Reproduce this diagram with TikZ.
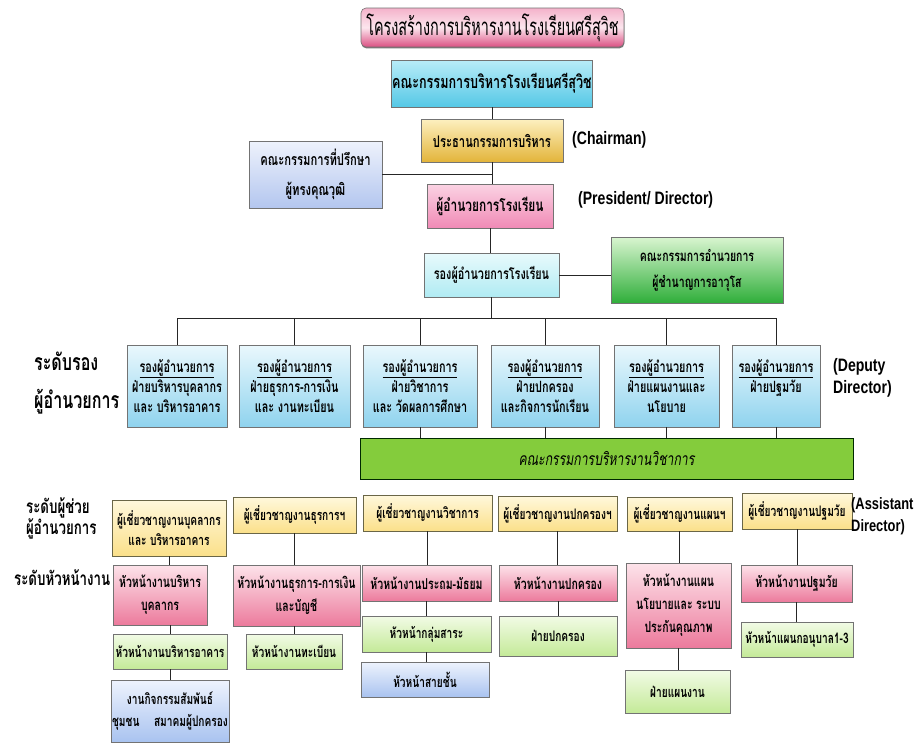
\documentclass[tikz,border=0pt]{standalone}
\usepackage{fontspec}
\usetikzlibrary{shadows}
\newfontfamily\thai[Script=Thai,FakeStretch=0.7]{Loma}
\newfontfamily\thaicond[Script=Thai,FakeStretch=0.6]{Loma}
\newfontfamily\eng[FakeStretch=0.78]{Liberation Sans}
\definecolor{titT}{HTML}{F4B2CA}\definecolor{titM}{HTML}{FCE6EE}\definecolor{titB}{HTML}{DB4F82}
\definecolor{brdT}{HTML}{B8ECF8}\definecolor{brdB}{HTML}{55C8E6}
\definecolor{chT}{HTML}{FDF0C0}\definecolor{chB}{HTML}{E3B43A}
\definecolor{advT}{HTML}{EEF2FC}\definecolor{advB}{HTML}{B3C6EF}
\definecolor{dirT}{HTML}{FBD3E3}\definecolor{dirB}{HTML}{F08AB6}
\definecolor{vcT}{HTML}{E8FAFC}\definecolor{vcB}{HTML}{B0EBF3}
\definecolor{exT}{HTML}{D9F5D0}\definecolor{exB}{HTML}{2FAE3A}
\definecolor{dpT}{HTML}{EAF8FD}\definecolor{dpB}{HTML}{8FD3EE}
\definecolor{barC}{HTML}{84CC3C}
\definecolor{asT}{HTML}{FFF8DC}\definecolor{asB}{HTML}{FBE08A}
\definecolor{hpT}{HTML}{FDE3EA}\definecolor{hpB}{HTML}{EC7A9C}
\definecolor{hgT}{HTML}{F2FBE6}\definecolor{hgB}{HTML}{C4EA98}
\definecolor{hbT}{HTML}{EEF3FD}\definecolor{hbB}{HTML}{A9C3F0}
\tikzset{
 box/.style={draw=black!55, line width=0.6pt, align=center, inner sep=1pt,
   font={\thai\bfseries\fontsize{15.5}{20}\selectfont},
   drop shadow={shadow xshift=0.4pt, shadow yshift=-1.4pt, fill=black!75, opacity=0.7}},
 titlebox/.style={box, rounded corners=5pt, top color=titT, bottom color=titB, middle color=titM,
   font={\thaicond\fontsize{24}{26}\selectfont}},
 boardbox/.style={box, top color=brdT, bottom color=brdB, font={\thai\bfseries\fontsize{18}{20}\selectfont}},
 chairbox/.style={box, top color=chT, bottom color=chB, font={\thai\bfseries\fontsize{16}{20}\selectfont}},
 advbox/.style={box, top color=advT, bottom color=advB, font={\thai\bfseries\fontsize{16}{30}\selectfont}},
 dirbox/.style={box, top color=dirT, bottom color=dirB, font={\thai\bfseries\fontsize{17}{20}\selectfont}},
 vicebox/.style={box, top color=vcT, bottom color=vcB, font={\thai\bfseries\fontsize{15.5}{20}\selectfont}},
 expbox/.style={box, top color=exT, bottom color=exB, font={\thai\bfseries\fontsize{15}{26}\selectfont}},
 depbox/.style={box, top color=dpT, bottom color=dpB, minimum height=82pt},
 barbox/.style={box, fill=barC, draw=black!60!green!40!black, font={\thai\itshape\fontsize{17.5}{20}\selectfont}},
 asbox/.style={box, top color=asT, bottom color=asB, draw=black!45!yellow!60!black, font={\thai\bfseries\fontsize{14.5}{20}\selectfont}},
 pkbox/.style={box, top color=hpT, bottom color=hpB, font={\thai\bfseries\fontsize{15}{23}\selectfont}},
 gnbox/.style={box, top color=hgT, bottom color=hgB, font={\thai\bfseries\fontsize{14.5}{20}\selectfont}},
 blbox/.style={box, top color=hbT, bottom color=hbB, font={\thai\bfseries\fontsize{14.5}{22}\selectfont}},
 englbl/.style={align=left, inner sep=0pt, anchor=west, font={\eng\bfseries\fontsize{18}{22}\selectfont}},
 lvllbl/.style={align=left, inner sep=0pt, anchor=west, font={\thai\bfseries\fontsize{23}{38}\selectfont}},
 lvlsm/.style={align=left, inner sep=0pt, anchor=west, font={\thai\bfseries\fontsize{19}{21}\selectfont}},
 conn/.style={draw=black!85, line width=0.9pt}
}
\begin{document}
\begin{tikzpicture}[x=1pt,y=-1pt]
\useasboundingbox[fill=white] (0,0) rectangle (916,744);
% top
\node[titlebox, minimum width=263pt, minimum height=39pt] (title) at (492.5,27.5) {โครงสร้างการบริหารงานโรงเรียนศรีสุวิช};
\node[boardbox, minimum width=200pt, minimum height=47pt] (board) at (492,83.5) {คณะกรรมการบริหารโรงเรียนศรีสุวิช};
\node[chairbox, minimum width=142pt, minimum height=43pt] (chair) at (492,140.5) {ประธานกรรมการบริหาร};
\node[advbox, minimum width=133pt, minimum height=67pt] (adv) at (315.5,174.5) {คณะกรรมการที่ปรึกษา\\ผู้ทรงคุณวุฒิ};
\node[dirbox, minimum width=126pt, minimum height=44pt] (dir) at (490,206) {ผู้อำนวยการโรงเรียน};
\node[vicebox, minimum width=135pt, minimum height=44pt] (vice) at (491.5,275) {รองผู้อำนวยการโรงเรียน};
\node[expbox, minimum width=172pt, minimum height=66pt] (exp) at (697,270) {คณะกรรมการอำนวยการ\\ผู้ชำนาญการอาวุโส};
\node[englbl] (chairL) at (572,140) {(Chairman)};
\node[englbl] (dirL) at (578,200) {(President/ Director)};
% deputies
\node[depbox, minimum width=100pt] (D1) at (177,386) {\underline{รองผู้อำนวยการ}\\ฝ่ายบริหารบุคลากร\\และ บริหารอาคาร};
\node[depbox, minimum width=111pt] (D2) at (294.5,386) {\underline{รองผู้อำนวยการ}\\ฝ่ายธุรการ-การเงิน\\และ งานทะเบียน};
\node[depbox, minimum width=114pt] (D3) at (420,386) {\underline{รองผู้อำนวยการ}\\ฝ่ายวิชาการ\\และ วัดผลการศึกษา};
\node[depbox, minimum width=108pt] (D4) at (545,386) {\underline{รองผู้อำนวยการ}\\ฝ่ายปกครอง\\และกิจการนักเรียน};
\node[depbox, minimum width=105pt] (D5) at (666.5,386) {\underline{รองผู้อำนวยการ}\\ฝ่ายแผนงานและ\\นโยบาย};
\node[depbox, minimum width=88pt] (D6) at (776,386) {\underline{รองผู้อำนวยการ}\\ฝ่ายปฐมวัย\\\mbox{}};
\node[lvllbl] (lvl1) at (34,383) {ระดับรอง\\ผู้อำนวยการ};
\node[englbl] (depL) at (833,378) {(Deputy\\Director)};
\node[barbox, minimum width=493pt, minimum height=41pt] (bar) at (606.5,458.5) {คณะกรรมการบริหารงานวิชาการ};
% assistants
\node[asbox, minimum width=114pt, minimum height=56pt] (A1) at (169,528) {ผู้เชี่ยวชาญงานบุคลากร\\และ บริหารอาคาร};
\node[asbox, minimum width=123pt, minimum height=36pt] (A2) at (294.5,515) {ผู้เชี่ยวชาญงานธุรการฯ};
\node[asbox, minimum width=129pt, minimum height=36pt] (A3) at (427.5,513) {ผู้เชี่ยวชาญงานวิชาการ};
\node[asbox, minimum width=119pt, minimum height=35pt] (A4) at (557.5,513.5) {ผู้เชี่ยวชาญงานปกครองฯ};
\node[asbox, minimum width=105pt, minimum height=34pt] (A5) at (679.5,514) {ผู้เชี่ยวชาญงานแผนฯ};
\node[asbox, minimum width=110pt, minimum height=36pt] (A6) at (797,511) {ผู้เชี่ยวชาญงานปฐมวัย};
\node[lvlsm] (lvl2) at (26,518) {ระดับผู้ช่วย\\ผู้อำนวยการ};
\node[englbl, font={\eng\bfseries\fontsize{16.5}{22}\selectfont}] (asL) at (851,516) {(Assistant\\Director)};
\node[lvlsm] (lvl3) at (14,578) {ระดับหัวหน้างาน};
% heads
\node[pkbox, minimum width=94pt, minimum height=60pt] (H1) at (160,595) {หัวหน้างานบริหาร\\บุคลากร};
\node[gnbox, minimum width=114pt, minimum height=35pt] (H1b) at (170,651.5) {หัวหน้างานบริหารอาคาร};
\node[blbox, minimum width=114pt, minimum height=62pt] (H1c) at (170,711) {งานกิจกรรมสัมพันธ์\\ชุมชน\hspace{1em}สมาคมผู้ปกครอง};
\node[pkbox, minimum width=127pt, minimum height=61pt] (H2) at (296.5,595.5) {หัวหน้างานธุรการ-การเงิน\\และบัญชี};
\node[gnbox, minimum width=96pt, minimum height=35pt] (H2b) at (294,651.5) {หัวหน้างานทะเบียน};
\node[pkbox, minimum width=129pt, minimum height=36pt] (H3) at (426.5,583) {หัวหน้างานประถม-มัธยม};
\node[gnbox, minimum width=129pt, minimum height=36pt] (H3b) at (426.5,634) {หัวหน้ากลุ่มสาระ};
\node[blbox, minimum width=128pt, minimum height=35pt] (H3c) at (425,679.5) {หัวหน้าสายชั้น};
\node[pkbox, minimum width=118pt, minimum height=36pt] (H4) at (558,583) {หัวหน้างานปกครอง};
\node[gnbox, minimum width=118pt, minimum height=40pt] (H4b) at (558,636) {ฝ่ายปกครอง};
\node[pkbox, minimum width=105pt, minimum height=85pt] (H5) at (678.5,605.5) {หัวหน้างานแผน\\นโยบายและ ระบบ\\ประกันคุณภาพ};
\node[gnbox, minimum width=105pt, minimum height=43pt] (H5b) at (677.5,691.5) {ฝ่ายแผนงาน};
\node[pkbox, minimum width=111pt, minimum height=37pt] (H6) at (796.5,583.5) {หัวหน้างานปฐมวัย};
\node[gnbox, minimum width=112pt, minimum height=35pt] (H6b) at (797,639.5) {หัวหน้าแผนกอนุบาล1-3};
% connectors top
\draw[conn] (board.south) -- (board.south |- chair.north);
\draw[conn] (chair.south) -- (chair.south |- dir.north);
\coordinate (advj) at (chair.south |- adv.east);
\draw[conn] (adv.east) -- (advj);
\draw[conn] (dir.south) -- (dir.south |- vice.north);
\draw[conn] (vice.east) -- (exp.west |- vice.east);
\coordinate (bus) at (491.5,318);
\draw[conn] (vice.south) -- (bus);
\draw[conn] (D1.north |- bus) -- (D6.north |- bus);
\foreach \d in {D1,D2,D3,D4,D5,D6} { \draw[conn] (\d.north |- bus) -- (\d.north); }
\foreach \d in {D3,D4,D5,D6} { \draw[conn] (\d.south) -- (\d.south |- bar.north); }
% connectors lower
\draw[conn] (A1.south) -- (A1.south |- H1.north);
\draw[conn] (H1b.north |- H1.south) -- (H1b.north);
\draw[conn] (H1b.south) -- (H1c.north);
\draw[conn] (A2.south) -- (A2.south |- H2.north);
\draw[conn] (H2b.north |- H2.south) -- (H2b.north);
\draw[conn] (A3.south) -- (A3.south |- H3.north);
\draw[conn] (H3.south) -- (H3.south |- H3b.north);
\draw[conn] (H3b.south) -- (H3b.south |- H3c.north);
\draw[conn] (A4.south) -- (A4.south |- H4.north);
\draw[conn] (H4.south) -- (H4.south |- H4b.north);
\draw[conn] (A5.south) -- (A5.south |- H5.north);
\draw[conn] (H5.south) -- (H5.south |- H5b.north);
\draw[conn] (A6.south) -- (A6.south |- H6.north);
\draw[conn] (H6.south) -- (H6.south |- H6b.north);
\end{tikzpicture}
\end{document}
